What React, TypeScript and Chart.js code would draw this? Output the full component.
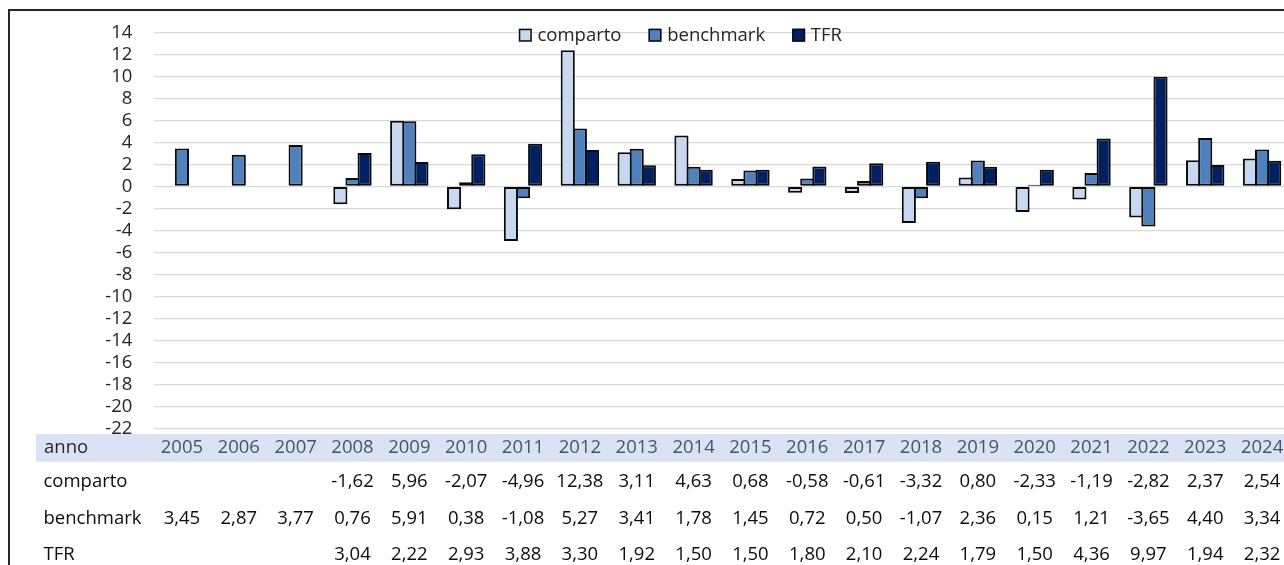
import React, { useEffect, useRef } from 'react';
import { Chart, registerables } from 'chart.js';

Chart.register(...registerables);

const years = ['2005', '2006', '2007', '2008', '2009', '2010', '2011', '2012', '2013', '2014', '2015', '2016', '2017', '2018', '2019', '2020', '2021', '2022', '2023', '2024'];
const comparto = [null, null, null, -1.62, 5.96, -2.07, -4.96, 12.38, 3.11, 4.63, 0.68, -0.58, -0.61, -3.32, 0.8, -2.33, -1.19, -2.82, 2.37, 2.54];
const benchmark = [3.45, 2.87, 3.77, 0.76, 5.91, 0.38, -1.08, 5.27, 3.41, 1.78, 1.45, 0.72, 0.5, -1.07, 2.36, 0.15, 1.21, -3.65, 4.4, 3.34];
const tfr = [null, null, null, 3.04, 2.22, 2.93, 3.88, 3.3, 1.92, 1.5, 1.5, 1.8, 2.1, 2.24, 1.79, 1.5, 4.36, 9.97, 1.94, 2.32];
const seriesNames = ['comparto', 'benchmark', 'TFR'];
const seriesColors = ['#c6d9f0', '#4f81bd', '#002060'];
const tableHeader = 'anno';
const yMin = -22;
const yMax = 14;
const yStep = 2;

const FONT = '"Open Sans", sans-serif';

const fmt = (v: number | null) => (v == null ? '' : v.toFixed(2).replace('.', ','));

const tablePlugin = {
  id: 'dataTableAndLegend',
  afterDraw(chart: any) {
    const ctx = chart.ctx as CanvasRenderingContext2D;
    const xs = chart.scales.x;
    ctx.save();
    // header band
    ctx.fillStyle = '#dae3f3';
    ctx.fillRect(36, 434, chart.width - 36, 27.7);
    ctx.font = `18.5px ${FONT}`;
    ctx.textBaseline = 'alphabetic';
    ctx.textAlign = 'left';
    ctx.fillStyle = '#262626';
    ctx.fillText(tableHeader, 44, 452.5);
    ctx.textAlign = 'center';
    ctx.fillStyle = '#44546a';
    years.forEach((y, i) => ctx.fillText(y, xs.getPixelForValue(i), 452.5));
    const rows = [comparto, benchmark, tfr];
    const baselines = [486.5, 523.5, 560];
    rows.forEach((r, ri) => {
      ctx.textAlign = 'left';
      ctx.fillStyle = '#0d0d0d';
      ctx.fillText(seriesNames[ri], 43.5, baselines[ri]);
      ctx.textAlign = 'center';
      r.forEach((v, i) => {
        if (v != null) ctx.fillText(fmt(v), xs.getPixelForValue(i), baselines[ri]);
      });
    });

    // legend
    const box = 13;
    const gap = 5.7;
    const spacing = 27;
    const widths = seriesNames.map((n) => ctx.measureText(n).width);
    const total = widths.reduce((a, w) => a + box + gap + w, 0) + spacing * (seriesNames.length - 1);
    let lx = 680.4 - total / 2;
    ctx.textAlign = 'left';
    seriesNames.forEach((n, i) => {
      ctx.fillStyle = seriesColors[i];
      ctx.fillRect(lx, 28.7, box, box);
      ctx.strokeStyle = '#0d0d0d';
      ctx.lineWidth = 1.5;
      ctx.strokeRect(lx + 0.75, 28.7 + 0.75, box - 1.5, box - 1.5);
      ctx.fillStyle = '#262626';
      ctx.fillText(n, lx + box + gap, 40.7);
      lx += box + gap + widths[i] + spacing;
    });
    ctx.restore();
  },
};

export default function App() {
  const ref = useRef<HTMLCanvasElement>(null);
  useEffect(() => {
    if (!ref.current) return;
    const datasets = [comparto, benchmark, tfr].map((d, i) => ({
      label: seriesNames[i],
      data: d,
      backgroundColor: seriesColors[i],
      borderColor: '#0a0a0a',
      borderWidth: 2,
      borderSkipped: false,
      categoryPercentage: 0.64,
      barPercentage: 1.165,
    }));
    const chart = new Chart(ref.current, {
      type: 'bar',
      data: { labels: years, datasets: datasets as any },
      options: {
        responsive: false,
        animation: false,
        layout: { padding: { left: 0, right: 9.5, top: 24, bottom: 136.5 } },
        plugins: { legend: { display: false }, tooltip: { enabled: false } },
        scales: {
          x: { display: false, offset: true },
          y: {
            min: yMin,
            max: yMax,
            ticks: { stepSize: yStep, autoSkip: false, padding: 21.2, color: '#262626', font: { family: FONT, size: 18.5 } },
            grid: { color: '#d9d9d9', lineWidth: 1.3, drawTicks: false },
            border: { display: false },
            afterFit: (s: any) => {
              s.width = 153.5;
            },
          },
        },
      },
      plugins: [tablePlugin],
    });
    return () => chart.destroy();
  }, []);

  return (
    <div style={{ position: 'absolute', left: 0, top: 0, width: 1284, height: 565, overflow: 'hidden', background: '#fff' }}>
      <div style={{ position: 'absolute', left: 7.5, top: 9.3, width: 1400, height: 800, border: '2px solid #262626', boxSizing: 'border-box' }} />
      <canvas ref={ref} width={1300} height={565} style={{ position: 'absolute', left: 0, top: 0, display: 'block' }} />
    </div>
  );
}
